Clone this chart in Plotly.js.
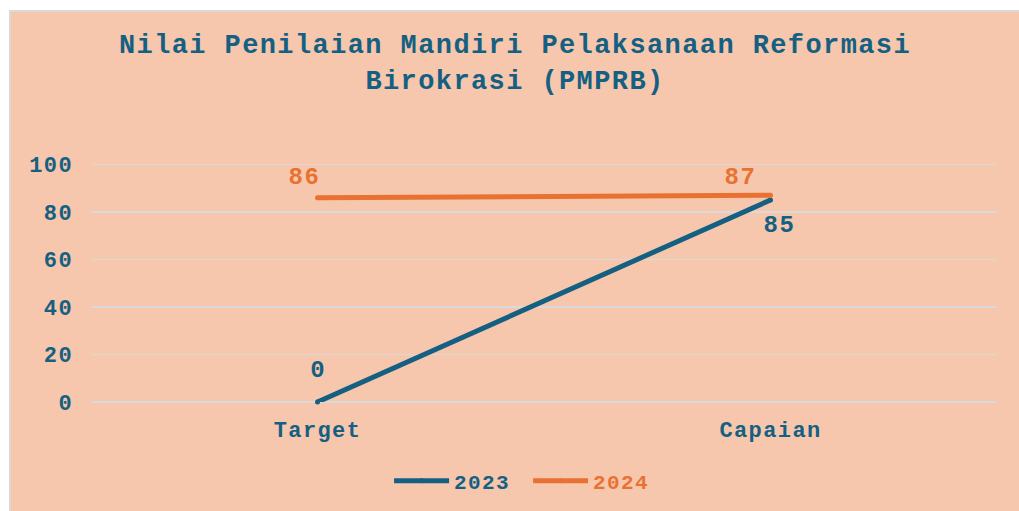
<!DOCTYPE html>
<html>
<head>
<meta charset="utf-8">
<script src="https://cdn.plot.ly/plotly-3.0.1.min.js"></script>
<style>
  html, body { margin: 0; padding: 0; background: #ffffff; width: 1019px; height: 511px; overflow: hidden; }
  #wrap { position: absolute; left: 9px; top: 10px; width: 1008px; height: 499px;
          border-left: 2px solid #d9d9d9; border-top: 2px solid #d9d9d9; background: #F6C7AC; }
  #chart { width: 1008px; height: 499px; }
  #chart svg text { letter-spacing: 1.4px; }
</style>
</head>
<body>
<div id="wrap"><div id="chart"></div></div>
<script>
const categories = ["Target", "Capaian"];
const series2023 = [0, 85];
const series2024 = [86, 87];
const seriesNames = ["2023", "2024"];
const chartTitle = "Nilai Penilaian Mandiri Pelaksanaan Reformasi<br>Birokrasi (PMPRB)";
const yTicks = [0, 20, 40, 60, 80, 100];

const teal = "#156082";
const orange = "#E97132";
const font = "'Liberation Mono', 'Courier New', monospace";

const traces = [
  { x: categories, y: series2023, name: seriesNames[0], type: "scatter", mode: "lines+markers",
    line: { color: teal, width: 5 }, marker: { color: teal, size: 5 }, cliponaxis: false },
  { x: categories, y: series2024, name: '<span style="color:' + orange + '">' + seriesNames[1] + '</span>',
    type: "scatter", mode: "lines+markers",
    line: { color: orange, width: 5 }, marker: { color: orange, size: 5 }, cliponaxis: false }
];

// label offsets (styling only)
const shifts2023 = [[0, 32], [9, -25]];
const shifts2024 = [[-13, 20], [-30, 18]];
const annotations = [];
categories.forEach((c, i) => {
  annotations.push({ x: c, y: series2023[i], text: String(series2023[i]), showarrow: false,
    xshift: shifts2023[i][0], yshift: shifts2023[i][1],
    font: { family: font, size: 24, color: teal, weight: "bold" } });
  annotations.push({ x: c, y: series2024[i], text: String(series2024[i]), showarrow: false,
    xshift: shifts2024[i][0], yshift: shifts2024[i][1],
    font: { family: font, size: 24, color: orange, weight: "bold" } });
});

const layout = {
  width: 1008, height: 499,
  paper_bgcolor: "#F6C7AC", plot_bgcolor: "rgba(0,0,0,0)",
  margin: { l: 80, r: 22, t: 150, b: 109, autoexpand: false },
  font: { family: font, color: teal, weight: "bold" },
  title: { text: chartTitle, x: 0.5, xanchor: "center", xref: "container",
           y: 0.917, yanchor: "top", yref: "container",
           font: { family: font, size: 27, color: teal, weight: "bold" } },
  xaxis: { type: "category", range: [-0.5, 1.5], showgrid: false, zeroline: false, showline: false,
           ticks: "", tickfont: { family: font, size: 22, color: teal, weight: "bold" },
           ticklabelstandoff: 12, fixedrange: true, automargin: false },
  yaxis: { range: [0, 101], tickvals: yTicks, ticktext: yTicks.map(String),
           showgrid: true, gridcolor: "#D9D9D9", gridwidth: 1.5,
           zeroline: true, zerolinecolor: "#D9D9D9", zerolinewidth: 1.5, showline: false,
           ticks: "", tickfont: { family: font, size: 22, color: teal, weight: "bold" },
           ticklabelstandoff: 17, fixedrange: true, automargin: false },
  showlegend: true,
  legend: { orientation: "h", xref: "paper", x: 0.329, xanchor: "left",
            yref: "container", y: 0.06, yanchor: "middle",
            itemwidth: 55, entrywidth: 69, entrywidthmode: "pixels",
            font: { family: font, size: 21, color: teal, weight: "bold" },
            bgcolor: "rgba(0,0,0,0)", itemclick: false, itemdoubleclick: false },
  annotations: annotations
};

Plotly.newPlot("chart", traces, layout, { displayModeBar: false, staticPlot: true });
</script>
</body>
</html>
